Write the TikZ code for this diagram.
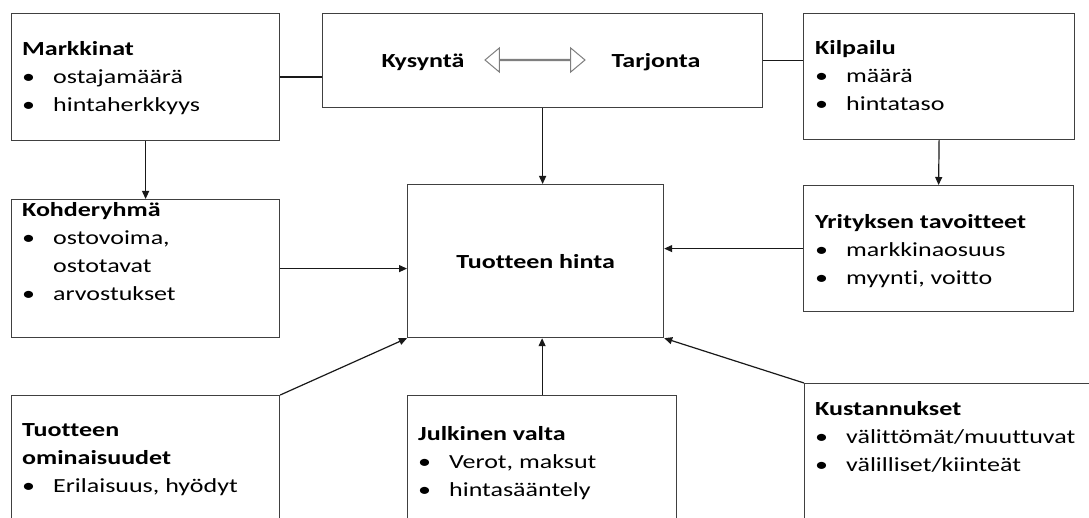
\documentclass[tikz,border=0pt]{standalone}
\usepackage{fontspec}
\setmainfont{Carlito}[FakeStretch=1.3,Ligatures=NoCommon]
\usetikzlibrary{arrows.meta,shapes.arrows}
\definecolor{boxline}{RGB}{64,64,64}
\definecolor{dblgray}{RGB}{127,127,127}
\newcommand{\fs}{\fontsize{20}{28}\selectfont}
\newcommand{\itm}[1]{\makebox[31pt][l]{•}#1}
\newcommand{\tstrut}{\rule{0pt}{18pt}}
\begin{document}
\begin{tikzpicture}[x=1pt,y=-1pt,
  infobox/.style={draw=boxline,line width=1.2pt,rectangle,inner sep=0pt,anchor=north west},
  boxtext/.style={anchor=north west,inner sep=0pt,align=left,font=\fs},
  link/.style={line width=1.2pt,draw=black!90},
  feed/.style={link,-{Triangle[length=8pt,width=7pt]}}]
\useasboundingbox (0,0) rectangle (1089,518);
\fill[white] (0,0) rectangle (1089,518);
\clip (0,0) rectangle (1089,518);
% boxes
\node[infobox,minimum width=268,minimum height=127] (markk) at (11,13) {};
\node[infobox,minimum width=440,minimum height=94] (kystar) at (322,13) {};
\node[infobox,minimum width=271,minimum height=126] (kilp) at (803,13) {};
\node[infobox,minimum width=268,minimum height=138] (kohde) at (11,199) {};
\node[infobox,minimum width=256,minimum height=153,font=\fs\bfseries] (hinta) at (407,184) {Tuotteen hinta};
\node[infobox,minimum width=270,minimum height=126] (yrit) at (803,185) {};
\node[infobox,minimum width=268,minimum height=150] (omin) at (11,395) {};
\node[infobox,minimum width=269,minimum height=150] (julk) at (407,395) {};
\node[infobox,minimum width=300,minimum height=160] (kust) at (804,383) {};
% texts
\node[boxtext] (markkT) at (22,37) {\tstrut\textbf{Markkinat}\\ \itm{ostajamäärä}\\ \itm{hintaherkkyys}};
\node[boxtext] (kilpT) at (815,36) {\tstrut\textbf{Kilpailu}\\ \itm{määrä}\\ \itm{hintataso}};
\node[boxtext] (kohdeT) at (22,198.5) {\tstrut\textbf{Kohderyhmä}\\ \itm{ostovoima,}\\ \hspace*{31pt}ostotavat\\ \itm{arvostukset}};
\node[boxtext] (yritT) at (815,210) {\tstrut\textbf{Yrityksen tavoitteet}\\ \itm{markkinaosuus}\\ \itm{myynti, voitto}};
\node[boxtext] (ominT) at (22,418) {\tstrut\textbf{Tuotteen}\\ \textbf{ominaisuudet}\\ \itm{Erilaisuus, hyödyt}};
\node[boxtext] (julkT) at (418,422) {\tstrut\textbf{Julkinen valta}\\ \itm{Verot, maksut}\\ \itm{hintasääntely}};
\node[boxtext] (kustT) at (815,397) {\tstrut\textbf{Kustannukset}\\ \itm{välittömät/muuttuvat}\\ \itm{välilliset/kiinteät}};
\node[font=\fs\bfseries,anchor=base] (kys) at (423,68) {Kysyntä};
\node[font=\fs\bfseries,anchor=base] (tarj) at (656,68) {Tarjonta};
\node[double arrow,draw=dblgray,fill=white,line width=1pt,minimum height=100,minimum width=24,
  inner sep=0pt,double arrow head extend=8.5pt,double arrow tip angle=80] (dbl) at (535,60) {};
% connectors
\draw[link] (markk.east) -- (markk.east -| kystar.west);
\draw[link] (kystar.east) -- (kystar.east -| kilp.west);
\draw[feed] (kystar.south) -- (kystar.south |- hinta.north);
\draw[feed] (markk.south) -- (kohde.north);
\draw[feed] (kilp.south) -- (yrit.north);
\draw[feed] (kohde.east) -- (kohde.east -| hinta.west);
\draw[feed] (yrit.west) -- (yrit.west -| hinta.east);
\draw[feed] (omin.north east) -- (hinta.south west);
\draw[feed] (julk.north) -- (julk.north |- hinta.south);
\draw[feed] (kust.north west) -- (hinta.south east);
\end{tikzpicture}
\end{document}
